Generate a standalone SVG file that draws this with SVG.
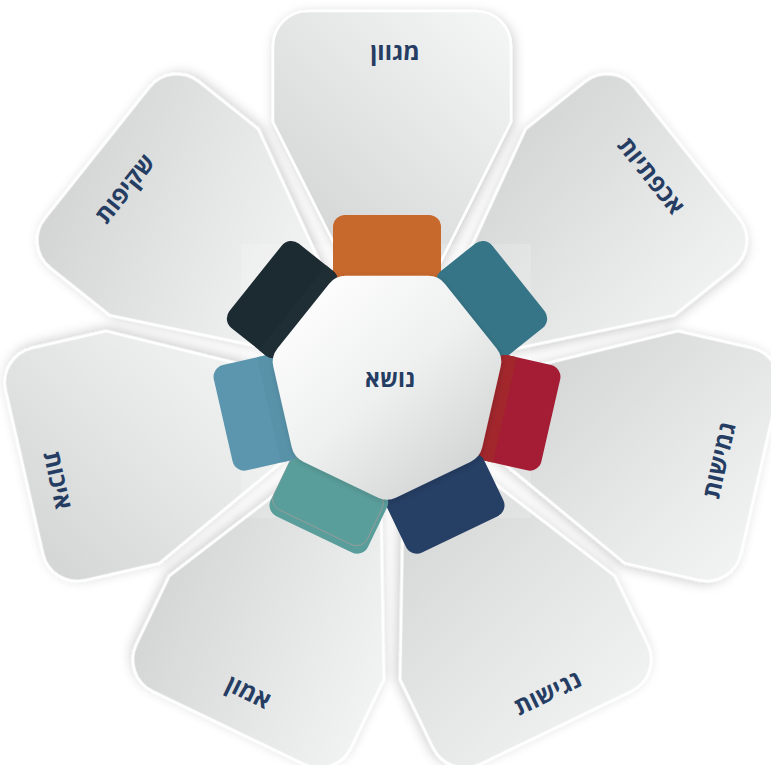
<svg xmlns="http://www.w3.org/2000/svg" xmlns:xlink="http://www.w3.org/1999/xlink" width="771" height="765" viewBox="0 0 771 765">
  <defs>
    <style>
      .petal { stroke: #ffffff; stroke-width: 2.5; stroke-linejoin: round; filter: url(#sh); }
      .lbl { font-family: "Open Sans", "Liberation Sans", "DejaVu Sans", sans-serif; font-weight: 700; font-size: 24px; fill: #253D63; text-anchor: middle; dominant-baseline: central; }
    </style>
    <filter id="sh" x="-20%" y="-20%" width="140%" height="140%">
      <feDropShadow dx="2" dy="3" stdDeviation="6" flood-color="#000000" flood-opacity="0.2"/>
    </filter>
    <filter id="sh2" x="-20%" y="-20%" width="140%" height="140%">
      <feDropShadow dx="1" dy="2" stdDeviation="3" flood-color="#000000" flood-opacity="0.15"/>
    </filter>
    <linearGradient id="pg" gradientUnits="userSpaceOnUse">
      <stop offset="0" stop-color="#d3d4d4"/>
      <stop offset="1" stop-color="#f3f4f4"/>
    </linearGradient>
    <linearGradient id="g1" xlink:href="#pg" gradientUnits="userSpaceOnUse" x1="300" y1="250" x2="500" y2="30"/>
    <linearGradient id="g2" xlink:href="#pg" gradientUnits="userSpaceOnUse" x1="520" y1="110" x2="740" y2="300" gradientTransform="rotate(-51.43 392 388)"/>
    <linearGradient id="g3" xlink:href="#pg" gradientUnits="userSpaceOnUse" x1="540" y1="340" x2="760" y2="560" gradientTransform="rotate(-102.86 392 388)"/>
    <linearGradient id="g4" xlink:href="#pg" gradientUnits="userSpaceOnUse" x1="400" y1="480" x2="650" y2="720" gradientTransform="rotate(-154.29 392 388)"/>
    <linearGradient id="g5" xlink:href="#pg" gradientUnits="userSpaceOnUse" x1="140" y1="600" x2="390" y2="700" gradientTransform="rotate(-205.71 392 388)"/>
    <linearGradient id="g6" xlink:href="#pg" gradientUnits="userSpaceOnUse" x1="20" y1="560" x2="240" y2="340" gradientTransform="rotate(-257.14 392 388)"/>
    <linearGradient id="g7" xlink:href="#pg" gradientUnits="userSpaceOnUse" x1="40" y1="220" x2="300" y2="320" gradientTransform="rotate(-308.57 392 388)"/>
    <linearGradient id="hg" x1="0.15" y1="0.1" x2="0.85" y2="0.9">
      <stop offset="0" stop-color="#fdfdfd"/>
      <stop offset="0.5" stop-color="#eeefef"/>
      <stop offset="1" stop-color="#d2d3d3"/>
    </linearGradient>
    <path id="petal" d="M273,122 L273,46 A35,35 0 0 1 308,11 L476,11 A35,35 0 0 1 511,46 L511,122 L397.3,348 L386.7,348 Z"/>
    <clipPath id="tabclip">
      <rect x="333" y="215" width="108" height="68" rx="12"/>
    </clipPath>
  </defs>

  <rect width="771" height="765" fill="#ffffff"/>

  <g id="node-mgvn">
    <use href="#petal" class="petal" fill="url(#g1)"/>
    <text class="lbl" x="395" y="50">מגוון</text>
  </g>
  <g id="node-achpatiyut">
    <use href="#petal" class="petal" fill="url(#g2)" transform="rotate(51.43 392 388)"/>
    <text class="lbl" transform="translate(652 175) rotate(51.43)">אכפתיות</text>
  </g>
  <g id="node-gmishut">
    <use href="#petal" class="petal" fill="url(#g3)" transform="rotate(102.86 392 388)"/>
    <text class="lbl" transform="translate(718 460) rotate(-77.14)">גמישות</text>
  </g>
  <g id="node-ngishut">
    <use href="#petal" class="petal" fill="url(#g4)" transform="rotate(154.29 392 388)"/>
    <text class="lbl" transform="translate(547 692) rotate(-25.71)">נגישות</text>
  </g>
  <g id="node-emun">
    <use href="#petal" class="petal" fill="url(#g5)" transform="rotate(205.71 392 388)"/>
    <text class="lbl" transform="translate(249 691) rotate(25.71)">אמון</text>
  </g>
  <g id="node-ichut">
    <use href="#petal" class="petal" fill="url(#g6)" transform="rotate(257.14 392 388)"/>
    <text class="lbl" transform="translate(59 480) rotate(77.14)">איכות</text>
  </g>
  <g id="node-shkifut">
    <use href="#petal" class="petal" fill="url(#g7)" transform="rotate(308.57 392 388)"/>
    <text class="lbl" transform="translate(124 188) rotate(-51.43)">שקיפות</text>
  </g>

  <rect x="241" y="244" width="290" height="274" fill="#ffffff" opacity="0.16"/>

  <g id="tabs">
    <g transform="rotate(0 387 383)">
      <rect x="333" y="215" width="108" height="68" rx="12" fill="#C7682D"/>
    </g>
    <g transform="rotate(51.43 387 383)">
      <rect x="333" y="215" width="108" height="68" rx="12" fill="#367587"/>
    </g>
    <g transform="rotate(102.86 387 383)">
      <rect x="333" y="215" width="108" height="68" rx="12" fill="#A51C35"/>
      <rect x="320" y="262" width="134" height="25" fill="#A2272D" clip-path="url(#tabclip)"/>
    </g>
    <g transform="rotate(154.29 387 383)">
      <rect x="333" y="215" width="108" height="68" rx="12" fill="#263F65"/>
    </g>
    <g transform="rotate(205.71 387 383)">
      <rect x="333" y="215" width="108" height="68" rx="12" fill="#5A9E9B"/>
      <rect x="337" y="222" width="104" height="58" rx="12" fill="none" stroke="#d99a9a" stroke-width="0.6" opacity="0.7" clip-path="url(#tabclip)"/>
    </g>
    <g transform="rotate(257.14 387 383)">
      <rect x="333" y="215" width="108" height="68" rx="12" fill="#5B96AE"/>
      <rect x="320" y="262" width="134" height="25" fill="#5892A9" clip-path="url(#tabclip)"/>
    </g>
    <g transform="rotate(308.57 387 383)">
      <rect x="333" y="215" width="108" height="68" rx="12" fill="#1C2A31"/>
      <rect x="320" y="262" width="134" height="25" fill="#1F2E35" clip-path="url(#tabclip)"/>
    </g>
  </g>

  <g id="center">
    <path d="M377.7,497.5 L303.3,461.7 Q294,457.2 291.7,447.1 L273.3,366.6 Q271,356.5 277.4,348.4 L329,283.9 Q335.4,275.8 345.7,275.8 L428.3,275.8 Q438.6,275.8 445,283.9 L496.6,348.4 Q503,356.5 500.7,366.6 L482.3,447.1 Q480,457.2 470.7,461.7 L396.3,497.5 Q387,502 377.7,497.5 Z" fill="url(#hg)" filter="url(#sh2)"/>
    <text class="lbl" x="390" y="378" style="font-size:23px">נושא</text>
  </g>
</svg>
